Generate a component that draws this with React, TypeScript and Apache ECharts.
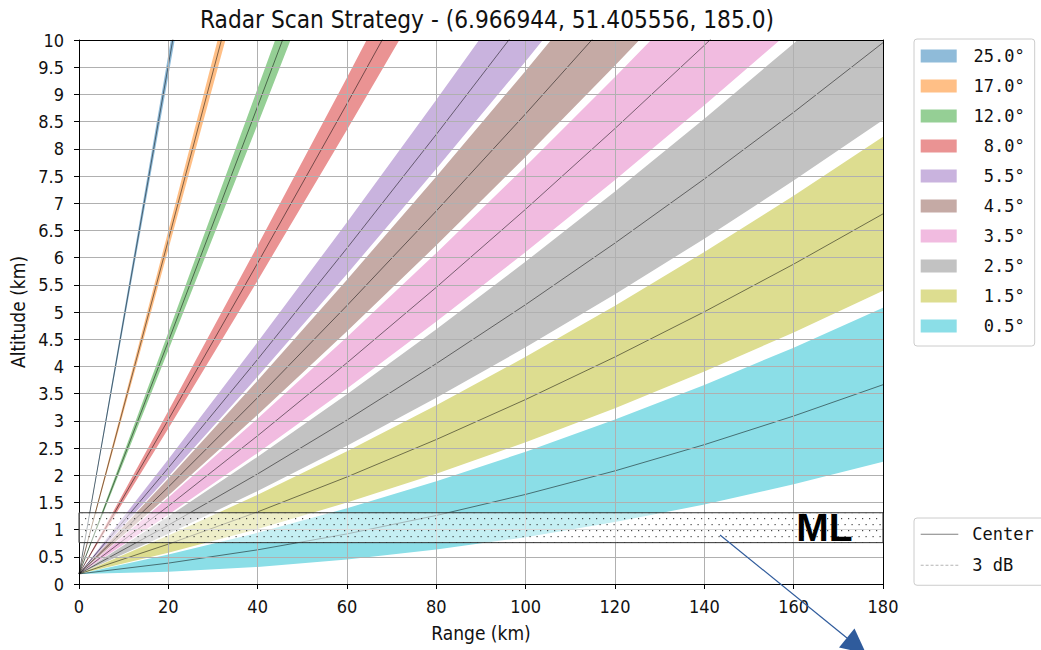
import React, { useEffect, useRef } from "react";
import * as echarts from "echarts";

const RANGES = [0, 20, 40, 60, 80, 100, 120, 140, 160, 180];

// Altitudes (km): lower 3 dB edge, beam centre, upper 3 dB edge
const LOWER_0_5 = [0.185, 0.226, 0.314, 0.449, 0.632, 0.861, 1.138, 1.461, 1.832, 2.249];
const CENTER_0_5 = [0.185, 0.384, 0.628, 0.921, 1.26, 1.647, 2.08, 2.561, 3.088, 3.663];
const UPPER_0_5 = [0.185, 0.541, 0.942, 1.392, 1.888, 2.432, 3.023, 3.66, 4.345, 5.076];

const LOWER_1_5 = [0.185, 0.576, 1.012, 1.497, 2.028, 2.607, 3.232, 3.905, 4.624, 5.391];
const CENTER_1_5 = [0.185, 0.733, 1.326, 1.968, 2.656, 3.392, 4.174, 5.004, 5.88, 6.804];
const UPPER_1_5 = [0.185, 0.89, 1.64, 2.439, 3.284, 4.177, 5.116, 6.103, 7.136, 8.22];

const LOWER_2_5 = [0.185, 0.924, 1.71, 2.543, 3.424, 4.351, 5.326, 6.347, 7.416, 8.531];
const CENTER_2_5 = [0.185, 1.081, 2.024, 3.014, 4.052, 5.136, 6.267, 7.446, 8.671, 9.951];
const UPPER_2_5 = [0.185, 1.24, 2.34, 3.489, 4.685, 5.927, 7.217, 8.553, 9.937, 11.368];

const LOWER_3_5 = [0.185, 1.275, 2.41, 3.594, 4.825, 6.102, 7.427, 8.799, 10.217, 11.683];
const CENTER_3_5 = [0.185, 1.432, 2.726, 4.067, 5.455, 6.89, 8.373, 9.902, 11.478, 13.101];
const UPPER_3_5 = [0.185, 1.59, 3.041, 4.54, 6.086, 7.679, 9.319, 11.006, 12.74, 14.521];

const LOWER_4_5 = [0.185, 1.625, 3.111, 4.645, 6.226, 7.855, 9.53, 11.252];
const CENTER_4_5 = [0.185, 1.783, 3.427, 5.119, 6.858, 8.644, 10.477, 12.357];
const UPPER_4_5 = [0.185, 1.941, 3.743, 5.594, 7.491, 9.435, 11.426, 13.464];

const LOWER_5_5 = [0.185, 1.976, 3.814, 5.699, 7.631, 9.611, 11.637];
const CENTER_5_5 = [0.185, 2.135, 4.131, 6.174, 8.265, 10.403, 12.588];
const UPPER_5_5 = [0.185, 2.293, 4.448, 6.65, 8.9, 11.196, 13.54];

const LOWER_8 = [0.185, 2.86, 5.581, 8.35, 11.165];
const CENTER_8 = [0.185, 3.02, 5.901, 8.829, 11.805];
const UPPER_8 = [0.185, 3.18, 6.221, 9.31, 12.446];

const LOWER_12 = [0.185, 4.296, 8.452, 12.657];
const CENTER_12 = [0.185, 4.46, 8.781, 13.15];
const UPPER_12 = [0.185, 4.625, 9.111, 13.645];

const LOWER_17 = [0.185, 6.154, 12.169];
const CENTER_17 = [0.185, 6.324, 12.508];
const UPPER_17 = [0.185, 6.494, 12.85];

const LOWER_25 = [0.185, 9.344, 18.549];
const CENTER_25 = [0.185, 9.535, 18.931];
const UPPER_25 = [0.185, 9.728, 19.317];

const ELEVATIONS = ["25.0°", "17.0°", "12.0°", "8.0°", "5.5°", "4.5°", "3.5°", "2.5°", "1.5°", "0.5°"];
const BAND_COLORS = ["#8fbbd9", "#ffbf86", "#95cf95", "#ea9393", "#c9b3de", "#c5aaa5", "#f1bbe0", "#c2c2c2", "#dddd90", "#8bdee7"];

// Melting layer (km)
const ML_BOTTOM = 0.76;
const ML_TOP = 1.31;

const BEAMS = [
  { lower: LOWER_25, center: CENTER_25, upper: UPPER_25 },
  { lower: LOWER_17, center: CENTER_17, upper: UPPER_17 },
  { lower: LOWER_12, center: CENTER_12, upper: UPPER_12 },
  { lower: LOWER_8, center: CENTER_8, upper: UPPER_8 },
  { lower: LOWER_5_5, center: CENTER_5_5, upper: UPPER_5_5 },
  { lower: LOWER_4_5, center: CENTER_4_5, upper: UPPER_4_5 },
  { lower: LOWER_3_5, center: CENTER_3_5, upper: UPPER_3_5 },
  { lower: LOWER_2_5, center: CENTER_2_5, upper: UPPER_2_5 },
  { lower: LOWER_1_5, center: CENTER_1_5, upper: UPPER_1_5 },
  { lower: LOWER_0_5, center: CENTER_0_5, upper: UPPER_0_5 },
];

const FONT = '"DejaVu Sans Condensed", "DejaVu Sans", sans-serif';
const MONO = '"DejaVu Sans Mono", monospace';

function makeDots(): HTMLCanvasElement {
  const c = document.createElement("canvas");
  c.width = 7;
  c.height = 12;
  const ctx = c.getContext("2d")!;
  ctx.fillStyle = "rgba(255,255,255,0.5)";
  ctx.fillRect(0, 0, 7, 12);
  ctx.fillStyle = "rgba(40,40,40,0.85)";
  ctx.fillRect(1, 2, 1.2, 1.2);
  ctx.fillRect(4.5, 8, 1.2, 1.2);
  return c;
}

const pairs = (vals: number[]) => vals.map((v, k) => [RANGES[k], v]);

export default function App() {
  const ref = useRef<HTMLDivElement>(null);
  useEffect(() => {
    if (!ref.current) return;
    const chart = echarts.init(ref.current, null, { renderer: "svg" });
    const series: any[] = [];
    // Layered fills: colour under the upper edge, then white under the lower edge,
    // from the highest beam down to the lowest.
    BEAMS.forEach((b, i) => {
      series.push({
        type: "line",
        name: ELEVATIONS[i],
        color: BAND_COLORS[i],
        data: pairs(b.upper),
        symbol: "none",
        lineStyle: { width: 0, opacity: 0 },
        areaStyle: { color: BAND_COLORS[i], opacity: 1 },
        silent: true,
        z: 2,
      });
      series.push({
        type: "line",
        name: "_lower" + i,
        color: "#ffffff",
        data: pairs(b.lower),
        symbol: "none",
        lineStyle: { width: 0, opacity: 0 },
        areaStyle: { color: "#ffffff", opacity: 1 },
        silent: true,
        z: 2,
      });
    });
    BEAMS.forEach((b, i) => {
      series.push({
        type: "line",
        name: "_center" + i,
        data: pairs(b.center),
        symbol: "none",
        lineStyle: { color: "rgba(0,0,0,0.5)", width: 1 },
        silent: true,
        z: 3,
      });
    });
    series.push({
      type: "line",
      name: "Center",
      color: "#808080",
      data: [],
      symbol: "none",
      lineStyle: { color: "#808080", width: 1 },
    });
    series.push({
      type: "line",
      name: "3 dB",
      color: "#b4b4b4",
      data: [],
      symbol: "none",
      lineStyle: { color: "#b4b4b4", width: 1, type: [3, 2] },
    });
    series.push({
      type: "line",
      name: "_ml",
      data: [],
      symbol: "none",
      z: 10,
      markArea: {
        silent: true,
        z: 10,
        itemStyle: {
          color: { image: makeDots(), repeat: "repeat" },
          borderColor: "#333",
          borderWidth: 1,
        },
        label: {
          show: true,
          position: "insideRight",
          distance: 31,
          formatter: "ML",
          fontFamily: '"Liberation Sans", Arial, sans-serif',
          fontWeight: "bold",
          fontSize: 39,
          color: "#000",
        },
        data: [[{ xAxis: 0, yAxis: ML_BOTTOM }, { xAxis: 180, yAxis: ML_TOP }]],
      },
    });

    const dash = "path://" + [0, 5, 10, 15, 20, 25, 30, 35].map((x) => `M${x} 0h3v1h-3z`).join(" ");

    const option: any = {
      animation: false,
      backgroundColor: "#ffffff",
      title: {
        text: "Radar Scan Strategy - (6.966944, 51.405556, 185.0)",
        left: 195,
        top: 3,
        textStyle: { fontFamily: FONT, fontSize: 24.2, fontWeight: "normal", color: "#111" },
      },
      grid: { left: 79, right: 158, top: 40, bottom: 66, containLabel: false },
      xAxis: [
        {
          type: "value",
          min: 0,
          max: 180,
          interval: 20,
          z: 5,
          name: "Range (km)",
          nameLocation: "middle",
          nameGap: 39,
          nameTextStyle: { fontFamily: FONT, fontSize: 19, color: "#111" },
          axisLine: { show: true, lineStyle: { color: "#000", width: 1 } },
          axisTick: { show: true, length: 5, lineStyle: { color: "#000" } },
          axisLabel: { fontFamily: FONT, fontSize: 18, color: "#111", margin: 13.5 },
          splitLine: { show: true, lineStyle: { color: "#b0b0b0", width: 1 } },
        },
        {
          type: "value",
          position: "top",
          min: 0,
          max: 180,
          z: 5,
          axisLine: { show: true, onZero: false, lineStyle: { color: "#000", width: 1 } },
          axisTick: { show: false },
          axisLabel: { show: false },
          splitLine: { show: false },
        },
      ],
      yAxis: [
        {
          type: "value",
          min: 0,
          max: 10,
          interval: 0.5,
          z: 5,
          name: "Altitude (km)",
          nameLocation: "middle",
          nameGap: 50,
          nameTextStyle: { fontFamily: FONT, fontSize: 19, color: "#111" },
          axisLine: { show: true, lineStyle: { color: "#000", width: 1 } },
          axisTick: { show: true, length: 5, lineStyle: { color: "#000" } },
          axisLabel: { fontFamily: FONT, fontSize: 18, color: "#111", margin: 15 },
          splitLine: { show: true, lineStyle: { color: "#b0b0b0", width: 1 } },
        },
        {
          type: "value",
          position: "right",
          min: 0,
          max: 10,
          z: 5,
          axisLine: { show: true, onZero: false, lineStyle: { color: "#000", width: 1 } },
          axisTick: { show: false },
          axisLabel: { show: false },
          splitLine: { show: false },
        },
      ],
      legend: [
        {
          orient: "vertical",
          left: 914,
          top: 39,
          data: ELEVATIONS,
          icon: "rect",
          itemWidth: 36,
          itemHeight: 13,
          itemGap: 13,
          itemStyle: { borderWidth: 0 },
          selectedMode: false,
          padding: [8.5, 10, 11.5, 6.7],
          backgroundColor: "#fff",
          borderColor: "#cccccc",
          borderWidth: 1,
          borderRadius: 3,
          formatter: (n: string) => `{r|${n}}`,
          textStyle: {
            fontFamily: MONO,
            fontSize: 17,
            color: "#111",
            rich: { r: { width: 63, align: "right", fontFamily: MONO, fontSize: 17, color: "#111" } },
          },
        },
        {
          orient: "vertical",
          left: 914,
          top: 518,
          data: [
            { name: "Center", icon: "path://M0 0h38v1h-38z" },
            { name: "3 dB", icon: dash },
          ],
          itemWidth: 37.6,
          itemHeight: 14,
          itemGap: 14,
          itemStyle: { borderWidth: 0 },
          selectedMode: false,
          padding: [7.75, 12, 11.5, 6.7],
          backgroundColor: "#fff",
          borderColor: "#cccccc",
          borderWidth: 1,
          borderRadius: 3,
          formatter: (n: string) => `{l|${n}}`,
          textStyle: {
            fontFamily: MONO,
            fontSize: 17,
            color: "#111",
            rich: { l: { padding: [0, 0, 0, 9], fontFamily: MONO, fontSize: 17, color: "#111" } },
          },
        },
      ],
      graphic: [
        {
          type: "line",
          z: 100,
          shape: { x1: 720, y1: 535, x2: 847, y2: 638 },
          style: { stroke: "#2f5b9c", lineWidth: 1.2 },
        },
        {
          type: "polygon",
          z: 100,
          shape: { points: [[839, 647.5], [854.5, 628.5], [866, 653.5]] },
          style: { fill: "#2f5b9c" },
        },
      ],
      series,
    };
    chart.setOption(option);
    return () => chart.dispose();
  }, []);
  return (
    <div
      ref={ref}
      style={{ position: "fixed", left: 0, top: 0, width: 1041, height: 650, background: "#fff" }}
    />
  );
}
